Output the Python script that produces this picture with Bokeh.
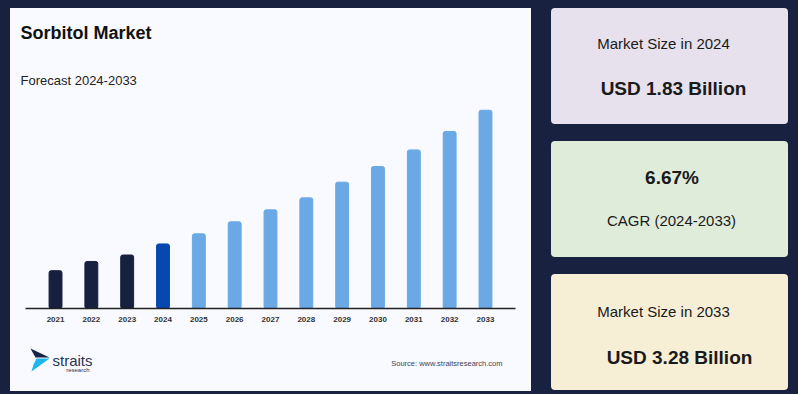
from bokeh.plotting import figure
from bokeh.layouts import row, column
from bokeh.models import Label, FactorRange, Range1d, ColumnDataSource
from bokeh.embed import file_html
from bokeh.resources import INLINE

# ---------------- data ----------------
years = ["2021", "2022", "2023", "2024", "2025", "2026", "2027",
         "2028", "2029", "2030", "2031", "2032", "2033"]
market_usd_bn = [1.54, 1.64, 1.71, 1.83, 1.94, 2.07, 2.20,
                 2.33, 2.50, 2.67, 2.85, 3.05, 3.28]
bar_colors = ["#17203e", "#17203e", "#17203e", "#0748b0"] + ["#6aa9e6"] * 9

title_text = "Sorbitol Market"
subtitle_text = "Forecast 2024-2033"
source_text = "Source: www.straitsresearch.com"
cards = [
    ("Market Size in 2024", "USD 1.83 Billion", "#e6e1ec"),
    ("6.67%", "CAGR (2024-2033)", "#e0ecda"),
    ("Market Size in 2033", "USD 3.28 Billion", "#f6efd6"),
]

FONT = "Liberation Sans"
NAVY = "#18213f"
PANEL = "#f9faff"
Y0, Y1 = 1.13, 3.386
PW = 521          # panel width
BL, BR = 15, 16   # left / right borders of the chart figure
PANEL_CSS = {"background-color": PANEL}


def blank(h):
    f = figure(width=PW, height=h, output_backend="svg", toolbar_location=None,
               x_range=Range1d(0, PW), y_range=Range1d(h, 0),
               x_axis_location=None, y_axis_location=None, tools="",
               min_border=0, frame_align=False, styles=PANEL_CSS)
    f.background_fill_color = None
    f.border_fill_color = None
    f.outline_line_color = None
    f.grid.visible = False
    return f


# ---------------- header ----------------
top = blank(92)
top.add_layout(Label(x=10, y=24, text=title_text, text_font=FONT, text_font_size="18px",
                     text_font_style="bold", text_color="#111111",
                     text_baseline="middle", text_align="left"))
top.add_layout(Label(x=10, y=72, text=subtitle_text, text_font=FONT, text_font_size="13px",
                     text_color="#222222", text_baseline="middle", text_align="left"))

# ---------------- bar chart ----------------
src = ColumnDataSource(dict(year=years, value=market_usd_bn, color=bar_colors))

p = figure(width=PW, height=230, output_backend="svg", toolbar_location=None,
           x_range=FactorRange(factors=years, range_padding=0.052),
           y_range=Range1d(Y0, Y1), y_axis_location=None,
           min_border_left=BL, min_border_right=BR, min_border_top=0,
           min_border_bottom=22, tools="", frame_align=False, styles=PANEL_CSS)
p.background_fill_color = None
p.border_fill_color = None
p.outline_line_color = None
p.grid.visible = False

p.vbar(x="year", top="value", bottom=Y0, width=0.36, color="color",
       source=src, border_radius=2)

ax = p.xaxis[0]
ax.axis_line_color = "#222222"
ax.axis_line_width = 1.3
ax.major_tick_line_color = None
ax.minor_tick_line_color = None
ax.major_tick_out = 0
ax.major_tick_in = 0
ax.major_label_standoff = 8
ax.major_label_text_font = FONT
ax.major_label_text_font_size = "8px"
ax.major_label_text_font_style = "bold"
ax.major_label_text_color = "#333333"

# ---------------- footer (logo + source) ----------------
bot = blank(61)
bot.patches(xs=[[20, 39, 25], [26, 39, 21, 23]],
            ys=[[18, 27, 27], [28, 28, 41, 34]],
            fill_color=["#1a2345", "#1fb6ee"], line_color=None)
bot.add_layout(Label(x=42, y=30, text="straits", text_font=FONT, text_font_size="15px",
                     text_color="#2b3352", text_baseline="middle", text_align="left"))
bot.add_layout(Label(x=79, y=39, text="research", text_font=FONT, text_font_size="6px",
                     text_color="#2b3352", text_baseline="middle", text_align="right"))
bot.add_layout(Label(x=492, y=33, text=source_text, text_font=FONT, text_font_size="7.5px",
                     text_color="#3c4356", text_baseline="middle", text_align="right"))

# ---------------- cards ----------------
card_pos = [
    (112, 81, "15px", "normal", 122, 36, "19px", "bold"),
    (120.5, 80, "19px", "bold", 120, 37, "15px", "normal"),
    (112, 79, "15px", "normal", 128, 33, "19px", "bold"),
]
card_figs = []
for (t1, t2, bg), (x1, y1, s1, b1, x2, y2, s2, b2) in zip(cards, card_pos):
    c = figure(width=237, height=116, output_backend="svg", toolbar_location=None,
               x_range=Range1d(0, 1), y_range=Range1d(0, 1),
               x_axis_location=None, y_axis_location=None, tools="",
               min_border=0, frame_align=False,
               styles={"border-radius": "4px", "overflow": "hidden", "background-color": bg})
    c.background_fill_color = None
    c.border_fill_color = None
    c.outline_line_color = None
    c.grid.visible = False
    c.add_layout(Label(x=x1, y=y1, x_units="screen", y_units="screen", text=t1,
                       text_font=FONT, text_font_size=s1, text_font_style=b1,
                       text_color="#1a1a1a", text_align="center", text_baseline="middle"))
    c.add_layout(Label(x=x2, y=y2, x_units="screen", y_units="screen", text=t2,
                       text_font=FONT, text_font_size=s2, text_font_style=b2,
                       text_color="#1a1a1a", text_align="center", text_baseline="middle"))
    card_figs.append(c)

left = column(top, p, bot, spacing=0, styles=PANEL_CSS)
layout = row(left, column(*card_figs, spacing=17), spacing=20)

html = file_html(layout, INLINE)
html = html.replace("</head>",
                    "<style>body{background-color:%s;padding:8px 0 0 10px;}</style></head>" % NAVY, 1)
open("out.html", "w").write(html)
